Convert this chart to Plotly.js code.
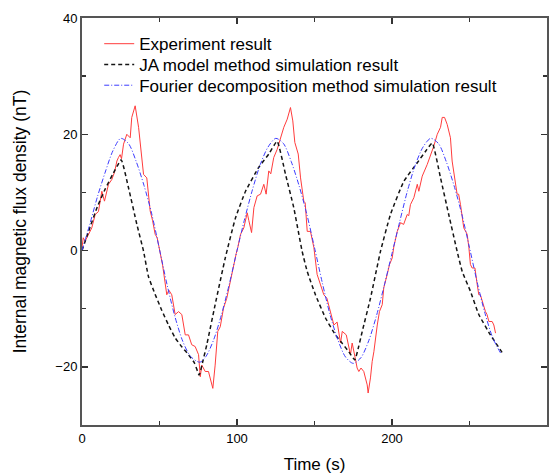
<!DOCTYPE html>
<html>
<head>
<meta charset="utf-8">
<script src="https://cdn.plot.ly/plotly-3.0.1.min.js"></script>
<style>html,body{margin:0;padding:0;background:#fff;}#chart{width:555px;height:475px;}</style>
</head>
<body>
<div id="chart"></div>
<script>
// Experiment result (red)
const expT = [0, 0.8, 2, 4.2, 6.3, 8.5, 10.6, 12.8, 14.5, 17.1, 19.2, 21, 22.5, 23.5, 24.6, 25.5, 26.8, 28.9, 30, 31.1, 32.1, 34.3, 36.5, 38, 39.7, 41.8, 44, 45.5, 47.2, 48.5, 50.4,
  52, 54.7, 56, 57.9, 60.1, 62.3, 64.4, 66.6, 68.7, 70.8, 73, 75.2, 76.3, 77.3, 79.5, 81.6, 82.7, 84.4, 85.9, 87.6, 89.2, 91.3, 93.4, 95.6, 97.7, 99.5,
  100.5, 102.3, 104.4, 106.6, 107.6, 109.4, 110.9, 113, 115.2, 117.3, 118.8, 120.5, 121.8, 123.7, 125.9, 128.1, 130.2, 132.4, 134.5, 136, 137.3, 139.5, 141, 143.1, 144, 145.3, 147.4, 149.6,
  151.7, 153.9, 156, 158, 160.3, 162.5, 164.6, 166.8, 167.9, 170.5, 173.2, 174.3, 176.5, 177.5, 178.6, 180, 181.8, 184, 184.6, 186.1, 187.2, 188.3, 190.5, 191.9, 193.7, 194.7, 196.9, 198.4, 200.1,
  201.2, 203.4, 205.5, 207.5, 209.8, 210.8, 211.9, 214.1, 216.3, 217.3, 219.5, 222.7, 224.8, 227, 229.2, 231.3, 232.4, 233.9, 235.6, 237.7, 238.8, 241, 242, 243, 244.2, 246.3, 248.5, 249.6,
  250.6, 251.7, 253.5, 255, 256, 257, 258.2, 260.3, 261.3, 262.5, 264.6, 265.7, 266.8];
const expV = [0.5, 2.2, 1.6, 2.8, 3.9, 6.2, 6.7, 10.2, 8.5, 11.4, 12.2, 13.5, 15.4, 16, 16.5, 15.8, 18.3, 20, 19.6, 19.4, 22.9, 24.9, 21.2, 17, 13.1, 12.5, 6.8, 5.2, 2.8, 2.2, -0.1,
  -2.5, -7.6, -6.8, -7.6, -11, -10.5, -11, -14.5, -14.5, -16.2, -16.5, -17.9, -21.7, -19.7, -20.8, -20.8, -22, -23.7, -19.7, -13.9, -13.1, -9.9, -8.2, -5.3, -2.4, -0.5,
  0.5, 2.8, 3.9, 6.5, 5.2, 3.1, 7.4, 9.4, 9.7, 11.4, 9.7, 13.7, 13.2, 16, 17.4, 19.4, 21.2, 22.6, 24.6, 22.3, 18.6, 16.6, 12.5, 8.5, 8.2, 3.3, 3.3, 0.5,
  -4.1, -5.9, -7.6, -8.2, -10.5, -12.8, -12.3, -15.9, -13.9, -14.5, -17.9, -15.9, -18.8, -20.2, -20.8, -20.2, -20.8, -23.1, -24.5, -21.9, -19.1, -17.4, -12.8, -10.5, -9.3, -6.4, -4.1, -2.4, -1.3,
  0.7, 3.3, 4.8, 4.5, 6.2, 6, 7.9, 9.1, 11.4, 10.2, 12.8, 14.8, 16.3, 18, 20, 21.2, 22.9, 22.9, 21.7, 19.4, 15.4, 11.9, 9.7, 9.7, 7.9, 3.9, 2.8, 0.5,
  -2.4, -3, -3, -5.9, -7.6, -7.6, -8.7, -10.5, -11, -12.2, -12.2, -12.8, -14.2];

// JA model method simulation result (black dashed)
const jaT = [0, 5, 10, 15, 20, 25.3, 30, 35.4, 39.7, 42.9, 47, 51.5, 56, 60.1, 64.5, 68.7, 72.5, 75.6,
  78, 80.5, 85.9, 92.4, 99, 105.5, 114, 120.5, 125.9, 131.3, 136.6, 142, 145.3, 150.6, 157.1, 163.5, 168, 172.1, 176,
  178.5, 180.8, 186.1, 192.6, 199, 207.6, 216.3, 222, 226, 231.3, 236.6, 242, 245.3, 250.6, 256, 263.5, 271];
const jaV = [0, 3.9, 7.6, 10.6, 13.2, 15.6, 10.8, 4.5, -0.1, -4.5, -7.4, -10.3, -12.9, -15, -16.6, -17.9, -19.3, -21.4,
  -19, -16.2, -9.3, -1.3, 5.6, 10.2, 14.3, 16.6, 18.8, 13.1, 7.4, -0.1, -3.6, -7.6, -11.6, -14.5, -16, -17.4, -18.8,
  -16.5, -13.9, -8.2, -0.1, 6.2, 11.9, 15.1, 17.2, 18.5, 12.5, 6.2, -0.1, -3.6, -7, -11, -14.5, -17.5];

// Fourier decomposition method simulation result (blue dash-dot)
const fdT = [0, 5, 10, 15, 20, 25, 30, 35, 40, 45, 50, 55, 60, 65, 70, 76, 80, 85, 90, 95, 100,
  105, 110, 115, 120, 125, 130, 135, 140, 145, 150, 155, 160, 165, 170, 175, 180, 185, 190, 195, 200,
  205, 210, 215, 220, 225, 230, 235, 240, 245, 250, 255, 260, 265, 270];
const fdV = [0, 4.5, 9.3, 13.5, 17.2, 19.3, 18.4, 15.3, 11.2, 6.3, 0.2, -6, -11.4, -15.6, -18.2, -19.2, -18.2, -15.3, -11, -5.8, 0,
  5.5, 10.5, 14.8, 17.8, 19.3, 18.4, 15.3, 11.2, 6.3, 0.5, -5.5, -11, -15.3, -18.3, -19.4, -18.4, -15.5, -11.2, -6, -0.5,
  5, 10.3, 14.7, 17.8, 19.3, 18.4, 15.3, 11.2, 6.3, 0.5, -5.5, -10.8, -15, -17.6];

const traces = [
  {x: expT, y: expV, type: 'scatter', mode: 'lines', name: 'Experiment result', legend: 'legend',
   line: {color: 'rgb(255,60,60)', width: 1}},
  {x: jaT, y: jaV, type: 'scatter', mode: 'lines', name: 'JA model method simulation result', legend: 'legend2',
   line: {color: 'rgb(20,20,20)', width: 1.5, dash: '4px,3px', shape: 'spline', smoothing: 0.4}},
  {x: fdT, y: fdV, type: 'scatter', mode: 'lines', name: 'Fourier decomposition method simulation result', legend: 'legend3',
   line: {color: 'rgb(60,60,255)', width: 1, dash: '5px,2px,1px,2px', shape: 'spline', smoothing: 0.8}}
];

const font = {family: '"Liberation Sans", Arial, sans-serif', color: '#000'};
const legendFont = {family: font.family, size: 17, color: '#000'};
function legendAt(y) {
  return {x: 0.037, y: y, xanchor: 'left', yanchor: 'top', bgcolor: 'rgba(0,0,0,0)', font: legendFont};
}
const axisCommon = {
  showgrid: false, zeroline: false, showline: true, linecolor: '#555', linewidth: 2,
  mirror: 'ticks', ticks: 'inside', ticklen: 6, tickwidth: 1.5, tickcolor: '#333',
  tickfont: {family: font.family, size: 13, color: '#000'}
};
const layout = {
  width: 555, height: 475,
  margin: {l: 82, r: 8, t: 18, b: 50},
  paper_bgcolor: '#fff', plot_bgcolor: '#fff',
  font: font,
  showlegend: true,
  legend: legendAt(0.980),
  legend2: legendAt(0.929),
  legend3: legendAt(0.878),
  xaxis: Object.assign({}, axisCommon, {range: [0, 300], dtick: 100, tick0: 0,
    minor: {dtick: 50, ticks: 'inside', ticklen: 4, tickcolor: '#333'},
    title: {text: 'Time (s)', font: {family: font.family, size: 17}, standoff: 14}}),
  yaxis: Object.assign({}, axisCommon, {range: [-30, 40], dtick: 20, tick0: 0,
    minor: {dtick: 10, ticks: 'inside', ticklen: 4, tickcolor: '#333'},
    title: {text: 'Internal magnetic flux density (nT)', font: {family: font.family, size: 17.5}, standoff: 24}})
};
Plotly.newPlot('chart', traces, layout, {displayModeBar: false, staticPlot: true});
</script>
</body>
</html>
